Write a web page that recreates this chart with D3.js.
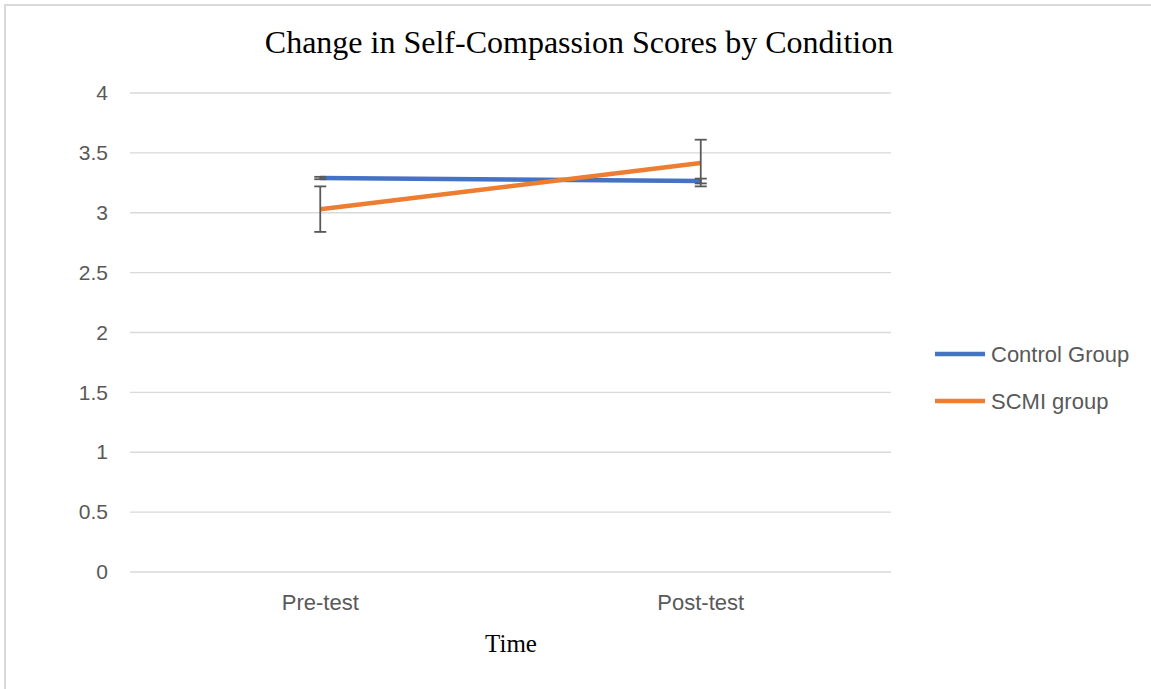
<!DOCTYPE html>
<html>
<head>
<meta charset="utf-8">
<script src="https://cdn.jsdelivr.net/npm/d3@7"></script>
<style>
  body { margin: 0; background: #fff; }
</style>
</head>
<body>
<svg id="chart"></svg>
<script>
const times = ["Pre-test", "Post-test"];
const seriesNames = ["Control Group", "SCMI group"];
const controlMeans = [3.29, 3.265];
const controlErr = [0.01, 0.02];
const scmiMeans = [3.03, 3.415];
const scmiErr = [0.19, 0.195];
const yTicks = [0, 0.5, 1, 1.5, 2, 2.5, 3, 3.5, 4];

const colors = ["#4472c4", "#ed7d31"];
const grey = "#595959";

const W = 1151, H = 689;
const margin = { top: 93, left: 130, right: 260, bottom: 117 };
const width = 891 - margin.left,
      height = 572 - margin.top;

const svg = d3.select("#chart")
  .attr("width", W)
  .attr("height", H);

// chart area border
svg.append("path")
  .attr("d", `M5,${H} L5,5 L${W},5`)
  .attr("fill", "none")
  .attr("stroke", "#d9d9d9")
  .attr("stroke-width", 2);

const g = svg.append("g")
  .attr("transform", `translate(${margin.left},${margin.top})`);

const x = d3.scaleBand()
  .domain(times)
  .range([0, width]);

const y = d3.scaleLinear()
  .domain([0, 4])
  .range([height, 0]);

// Gridlines
g.append("g")
  .selectAll("line")
  .data(yTicks)
  .join("line")
  .attr("x1", 0)
  .attr("x2", width)
  .attr("y1", d => y(d))
  .attr("y2", d => y(d))
  .attr("stroke", "#d9d9d9")
  .attr("stroke-width", 1.3);

// Y axis labels
const yAxis = g.append("g")
  .attr("transform", "translate(-19,0)")
  .call(d3.axisLeft(y).tickValues(yTicks).tickSize(0).tickFormat(d3.format("")));
yAxis.select(".domain").remove();
yAxis.selectAll("text")
  .attr("fill", grey)
  .style("font-family", "'Liberation Sans', Arial, sans-serif")
  .style("font-size", "21px");

// X axis labels
const xAxis = g.append("g")
  .attr("transform", `translate(0,${height + 19})`)
  .call(d3.axisBottom(x).tickSize(0));
xAxis.select(".domain").remove();
xAxis.selectAll("text")
  .attr("fill", grey)
  .style("font-family", "'Liberation Sans', Arial, sans-serif")
  .style("font-size", "22px");

const cx = d => x(d) + x.bandwidth() / 2;

const series = [
  { name: seriesNames[0], means: controlMeans, errs: controlErr, color: colors[0] },
  { name: seriesNames[1], means: scmiMeans, errs: scmiErr, color: colors[1] }
];

const line = d3.line()
  .x(d => cx(d.t))
  .y(d => y(d.v));

series.forEach(s => {
  const pts = times.map((t, i) => ({ t, v: s.means[i], e: s.errs[i] }));
  g.append("path")
    .datum(pts)
    .attr("d", line)
    .attr("fill", "none")
    .attr("stroke", s.color)
    .attr("stroke-width", 4.5);
});

// Error bars
series.forEach(s => {
  const pts = times.map((t, i) => ({ t, v: s.means[i], e: s.errs[i] }));
  const eb = g.append("g").selectAll("g").data(pts).join("g");
  eb.append("line")
    .attr("x1", d => cx(d.t)).attr("x2", d => cx(d.t))
    .attr("y1", d => y(d.v + d.e)).attr("y2", d => y(d.v - d.e))
    .attr("stroke", grey).attr("stroke-width", 1.8);
  [1, -1].forEach(sign => {
    eb.append("line")
      .attr("x1", d => cx(d.t) - 6).attr("x2", d => cx(d.t) + 6)
      .attr("y1", d => y(d.v + sign * d.e)).attr("y2", d => y(d.v + sign * d.e))
      .attr("stroke", grey).attr("stroke-width", 1.8);
  });
});

// Title
svg.append("text")
  .attr("x", 579)
  .attr("y", 53)
  .attr("text-anchor", "middle")
  .style("font-family", "'Liberation Serif', 'Times New Roman', serif")
  .style("font-size", "32px")
  .attr("fill", "#000")
  .text("Change in Self-Compassion Scores by Condition");

// X axis title
svg.append("text")
  .attr("x", 511)
  .attr("y", 652)
  .attr("text-anchor", "middle")
  .style("font-family", "'Liberation Serif', 'Times New Roman', serif")
  .style("font-size", "25px")
  .attr("fill", "#000")
  .text("Time");

// Legend
const legend = svg.append("g")
  .attr("transform", "translate(935,354)");

series.forEach((s, i) => {
  const lg = legend.append("g")
    .attr("transform", `translate(0, ${i * 47})`);
  lg.append("line")
    .attr("x1", 0).attr("x2", 50)
    .attr("stroke", s.color)
    .attr("stroke-width", 4.5);
  lg.append("text")
    .attr("x", 56)
    .attr("y", 8)
    .attr("fill", grey)
    .style("font-family", "'Liberation Sans', Arial, sans-serif")
    .style("font-size", "22px")
    .text(s.name);
});
</script>
</body>
</html>
